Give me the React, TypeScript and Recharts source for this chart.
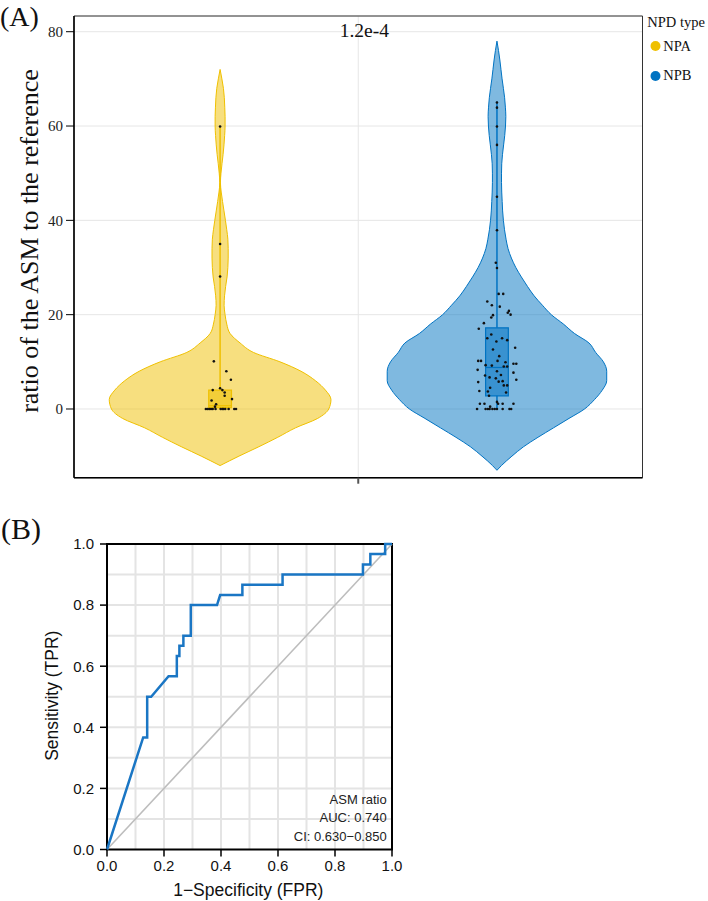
import React from 'react';
import {
  ComposedChart,
  Area,
  Scatter,
  Line,
  XAxis,
  YAxis,
  CartesianGrid,
  ReferenceArea,
  ReferenceLine,
} from 'recharts';

// ---------- Panel A data ----------
const groups = ['NPA', 'NPB'];
const groupColors = ['#EFC000', '#0073C2'];
const groupCenters = [-0.243, 0.244];
const violinHalfWidth = 0.195;
const boxHalfWidth = 0.02;

const violinGrid = [
  -13, -12, -10, -8, -6, -4, -2, 0, 2, 4, 6, 8, 10, 12, 14, 16, 18, 20, 22, 24, 26, 28, 30, 32,
  34, 36, 38, 40, 42, 44, 46, 48, 50, 52, 54, 56, 58, 60, 62, 64, 66, 68, 70, 72, 74, 76, 78,
];
const npaDensity = [
  null, 0, 0.17, 0.35, 0.52, 0.68, 0.88, 0.98, 1.0, 0.95, 0.86, 0.73, 0.54, 0.3, 0.18, 0.09, 0.06,
  0.045, 0.036, 0.04, 0.05, 0.063, 0.07, 0.073, 0.073, 0.07, 0.06, 0.048, 0.035, 0.022, 0.01,
  0.003, 0.008, 0.017, 0.027, 0.035, 0.041, 0.045, 0.045, 0.042, 0.038, 0.03, 0.016, 0, null,
  null, null,
];
const npbDensity = [
  0, 0.04, 0.135, 0.24, 0.37, 0.51, 0.65, 0.79, 0.88, 0.95, 0.99, 0.99, 0.96, 0.89, 0.83, 0.7,
  0.6, 0.49, 0.41, 0.335, 0.275, 0.22, 0.17, 0.13, 0.1, 0.082, 0.068, 0.058, 0.051, 0.047, 0.043,
  0.041, 0.041, 0.043, 0.05, 0.06, 0.07, 0.077, 0.08, 0.076, 0.069, 0.058, 0.046, 0.036, 0.026,
  0.014, 0,
];

const boxQ1 = [0.3, 2.8];
const boxMedian = [0.7, 8.8];
const boxQ3 = [4.0, 17.2];
const whiskerLow = [0, 0];
const whiskerHigh = [60, 65.2];

const npaValues = [
  59.9, 35.0, 28.1, 10.1, 8.0, 6.2, 4.4, 4.0, 4.0, 3.5, 2.8, 2.1, 1.8, 1.0, 0.5, 0, 0, 0, 0, 0, 0,
  0, 0, 0, 0, 0, 0, 0,
];
const npaJitter = [
  0, 0, 0, -0.011, 0.011, 0.019, 0, -0.013, 0.004, 0.008, 0.008, 0.021, -0.015, -0.007, -0.009,
  -0.025, -0.022, -0.019, -0.016, -0.013, -0.008, 0.001, 0.004, 0.006, 0.009, 0.015, 0.025, 0.028,
];
const npbValues = [
  65.0, 63.9, 59.9, 56.0, 45.0, 37.9, 31.0, 29.9, 24.4, 24.4, 22.8, 22.0, 21.7, 20.8, 20.4, 20.0,
  19.9, 19.4, 18.2, 17.0, 15.8, 15.0, 15.0, 14.6, 14.3, 13.0, 12.6, 11.2, 10.2, 10.2, 10.2, 9.9,
  9.6, 9.6, 9.3, 9.2, 9.0, 9.0, 8.3, 8.0, 7.7, 7.2, 7.1, 6.7, 6.5, 6.2, 5.9, 5.8, 5.7, 5.0, 5.0,
  4.5, 3.8, 3.7, 3.5, 2.8, 1.5, 1.1, 1.1, 1.1, 1.1, 1.1, 0.5, 0, 0, 0, 0, 0, 0, 0, 0, 0, 0,
];
const npbJitter = [
  0, 0, 0, 0, 0, 0, -0.002, 0, 0.003, 0.011, -0.017, -0.009, 0.005, 0.021, 0.019, 0.024, -0.007,
  -0.01, -0.023, -0.032, -0.01, -0.017, 0.009, 0.018, -0.001, 0.032, -0.007, 0.004, -0.033,
  -0.028, 0.001, 0.015, 0.029, 0.034, -0.02, -0.009, 0.012, 0.018, -0.034, 0, 0.029, 0.007,
  -0.021, -0.013, -0.002, 0.034, 0.01, 0.003, -0.033, 0.012, 0.018, -0.012, -0.031, -0.016, 0.016,
  -0.014, 0, 0.002, -0.03, -0.022, 0.01, 0.029, -0.012, -0.035, -0.02, -0.016, -0.013, -0.008,
  -0.004, 0, 0.01, 0.022, 0.025,
];

const yTicksA = [0, 20, 40, 60, 80];
const pValueText = '1.2e-4';
const legendTitle = 'NPD type';
const yLabelA = 'ratio of the ASM to the reference';

// ---------- Panel B data ----------
const rocFpr = [
  0, 0.127, 0.141, 0.141, 0.155, 0.216, 0.245, 0.245, 0.254, 0.254, 0.268, 0.268, 0.294, 0.294,
  0.386, 0.397, 0.475, 0.475, 0.616, 0.616, 0.898, 0.898, 0.924, 0.924, 0.976, 0.976, 1.0,
];
const rocTpr = [
  0, 0.367, 0.367, 0.5, 0.5, 0.567, 0.567, 0.633, 0.633, 0.667, 0.667, 0.7, 0.7, 0.8, 0.8, 0.833,
  0.833, 0.867, 0.867, 0.9, 0.9, 0.933, 0.933, 0.967, 0.967, 1.0, 1.0,
];
const rocTicks = [0, 0.2, 0.4, 0.6, 0.8, 1.0];
const rocGrid = [0.1, 0.2, 0.3, 0.4, 0.5, 0.6, 0.7, 0.8, 0.9];
const rocAnnotation = ['ASM ratio', 'AUC: 0.740', 'CI: 0.630\u22120.850'];
const rocXLabel = '1\u2212Specificity (FPR)';
const rocYLabel = 'Sensitivity (TPR)';

// ---------- tables ----------
const densities = [npaDensity, npbDensity];
const violinTable = violinGrid
  .map((v, i) => {
    const row: any = { v };
    groups.forEach((g, gi) => {
      const d = densities[gi][i];
      row[g] =
        d == null
          ? [null, null]
          : [groupCenters[gi] - d * violinHalfWidth, groupCenters[gi] + d * violinHalfWidth];
    });
    return row;
  })
  .sort((a, b) => b.v - a.v);

const pointSets = [
  npaValues.map((v, i) => ({ x: groupCenters[0] + npaJitter[i], v })),
  npbValues.map((v, i) => ({ x: groupCenters[1] + npbJitter[i], v })),
];

const rocTable = rocFpr.map((f, i) => ({ fpr: f, tpr: rocTpr[i] }));

const SERIF = '"Liberation Serif", "Times New Roman", serif';
const SANS = '"Liberation Sans", Arial, sans-serif';

const Dot = (props: any) => {
  const { cx, cy } = props;
  if (cx == null || cy == null) return null;
  return <circle cx={cx} cy={cy} r={1.3} fill="#111" />;
};

const Y_MIN_A = -14.57;
const Y_MAX_A = 83.33;

export default function App() {
  return (
    <div
      style={{
        position: 'absolute',
        left: 0,
        top: 0,
        width: 708,
        height: 901,
        background: '#fff',
        overflow: 'hidden',
      }}
    >
      {/* Panel A */}
      <div style={{ position: 'absolute', left: 0, top: 0 }}>
        <ComposedChart
          width={708}
          height={500}
          layout="vertical"
          data={violinTable}
          margin={{ top: 16, right: 65.5, bottom: 2.3, left: 14 }}
        >
          <CartesianGrid stroke="#e6e6e6" strokeWidth={1} />
          <XAxis
            type="number"
            dataKey="x"
            domain={[-0.5, 0.5]}
            ticks={[0]}
            tickFormatter={() => ''}
            height={20}
            tickSize={6}
            axisLine={{ stroke: '#000', strokeWidth: 1.5 }}
            tickLine={{ stroke: '#555', strokeWidth: 2 }}
            allowDataOverflow
          />
          <YAxis
            type="number"
            dataKey="v"
            domain={[Y_MIN_A, Y_MAX_A]}
            ticks={yTicksA}
            reversed
            width={60}
            tickSize={8}
            tickMargin={3}
            allowDataOverflow
            axisLine={{ stroke: '#000', strokeWidth: 1.5 }}
            tickLine={{ stroke: '#000', strokeWidth: 1 }}
            tick={{ fontFamily: SERIF, fontSize: 15, fill: '#222' }}
          />
          {groups.map((g, gi) => (
            <Area
              key={g}
              dataKey={g}
              type="monotone"
              fill={groupColors[gi]}
              fillOpacity={0.5}
              stroke={groupColors[gi]}
              strokeWidth={1}
              dot={false}
              activeDot={false}
              isAnimationActive={false}
            />
          ))}
          {groups.map((g, gi) => (
            <ReferenceArea
              key={'box' + g}
              x1={groupCenters[gi] - boxHalfWidth}
              x2={groupCenters[gi] + boxHalfWidth}
              y1={boxQ1[gi]}
              y2={boxQ3[gi]}
              fill={groupColors[gi]}
              fillOpacity={0.55}
              stroke={groupColors[gi]}
              strokeWidth={1.2}
              strokeOpacity={1}
            />
          ))}
          {groups.map((g, gi) => (
            <ReferenceLine
              key={'wh' + g}
              segment={[
                { x: groupCenters[gi], y: boxQ3[gi] },
                { x: groupCenters[gi], y: whiskerHigh[gi] },
              ]}
              stroke={groupColors[gi]}
              strokeWidth={1.5}
            />
          ))}
          {groups.map((g, gi) => (
            <ReferenceLine
              key={'wl' + g}
              segment={[
                { x: groupCenters[gi], y: whiskerLow[gi] },
                { x: groupCenters[gi], y: boxQ1[gi] },
              ]}
              stroke={groupColors[gi]}
              strokeWidth={1.5}
            />
          ))}
          {groups.map((g, gi) => (
            <ReferenceLine
              key={'med' + g}
              segment={[
                { x: groupCenters[gi] - boxHalfWidth, y: boxMedian[gi] },
                { x: groupCenters[gi] + boxHalfWidth, y: boxMedian[gi] },
              ]}
              stroke={groupColors[gi]}
              strokeWidth={1.2}
            />
          ))}
          {groups.map((g, gi) => (
            <Scatter
              key={'pts' + g}
              data={pointSets[gi]}
              dataKey="v"
              shape={Dot}
              isAnimationActive={false}
            />
          ))}
          <ReferenceArea
            x1={-0.5}
            x2={0.5}
            y1={Y_MIN_A}
            y2={Y_MAX_A}
            fill="none"
            stroke="#333"
            strokeWidth={1}
          />
        </ComposedChart>
      </div>

      {/* Panel B */}
      <div style={{ position: 'absolute', left: 0, top: 500 }}>
        <ComposedChart
          width={420}
          height={401}
          data={rocTable}
          margin={{ top: 44, right: 28, bottom: 21.5, left: 17 }}
        >
          <CartesianGrid
            stroke="#e4e4e4"
            strokeWidth={2}
            horizontalValues={rocGrid}
            verticalValues={rocGrid}
          />
          <XAxis
            type="number"
            dataKey="fpr"
            domain={[0, 1]}
            ticks={rocTicks}
            tickFormatter={(v: number) => v.toFixed(1)}
            height={30}
            tickSize={7}
            tickMargin={4}
            axisLine={false}
            tickLine={{ stroke: '#000', strokeWidth: 1.5 }}
            tick={{ fontFamily: SANS, fontSize: 15, fill: '#111' }}
          />
          <YAxis
            type="number"
            domain={[0, 1]}
            ticks={rocTicks}
            tickFormatter={(v: number) => v.toFixed(1)}
            width={90}
            tickSize={7}
            tickMargin={6}
            axisLine={false}
            tickLine={{ stroke: '#000', strokeWidth: 1.5 }}
            tick={{ fontFamily: SANS, fontSize: 15, fill: '#111' }}
          />
          <ReferenceLine
            segment={[
              { x: 0, y: 0 },
              { x: 1, y: 1 },
            ]}
            stroke="#bdbdbd"
            strokeWidth={1.6}
          />
          <Line
            dataKey="tpr"
            type="linear"
            stroke="#1a76c4"
            strokeWidth={2.5}
            dot={false}
            activeDot={false}
            isAnimationActive={false}
          />
          <ReferenceArea
            x1={0}
            x2={1}
            y1={0}
            y2={1}
            fill="none"
            stroke="#000"
            strokeWidth={2}
          />
        </ComposedChart>
      </div>

      {/* Text overlay */}
      <svg
        width={708}
        height={901}
        style={{ position: 'absolute', left: 0, top: 0, pointerEvents: 'none' }}
      >
        <text x={0} y={26} fontFamily={SERIF} fontSize={28} fill="#111">
          (A)
        </text>
        <text x={1} y={539} fontFamily={SERIF} fontSize={30} fill="#111">
          (B)
        </text>
        <text
          transform="translate(37.5,241) rotate(-90)"
          textAnchor="middle"
          fontFamily={SERIF}
          fontSize={26}
          fill="#111"
        >
          {yLabelA}
        </text>
        <text x={364.3} y={37.3} textAnchor="middle" fontFamily={SERIF} fontSize={19.5} fill="#111">
          {pValueText}
        </text>
        <text x={647.3} y={26.7} fontFamily={SERIF} fontSize={14.5} fill="#111">
          {legendTitle}
        </text>
        {groups.map((g, gi) => (
          <g key={'leg' + g}>
            <circle cx={655.5} cy={46 + gi * 30} r={5} fill={groupColors[gi]} />
            <text x={663.3} y={50.5 + gi * 29.5} fontFamily={SERIF} fontSize={14.5} fill="#111">
              {g}
            </text>
          </g>
        ))}
        {rocAnnotation.map((t, i) => (
          <text
            key={t}
            x={386.7}
            y={804 + i * 18.4}
            textAnchor="end"
            fontFamily={SANS}
            fontSize={13}
            fill="#222"
          >
            {t}
          </text>
        ))}
        <text x={248.3} y={896} textAnchor="middle" fontFamily={SANS} fontSize={17.5} fill="#111">
          {rocXLabel}
        </text>
        <text
          transform="translate(58,695.7) rotate(-90)"
          textAnchor="middle"
          fontFamily={SANS}
          fontSize={17.5}
          fill="#111"
        >
          {rocYLabel}
        </text>
      </svg>
    </div>
  );
}
